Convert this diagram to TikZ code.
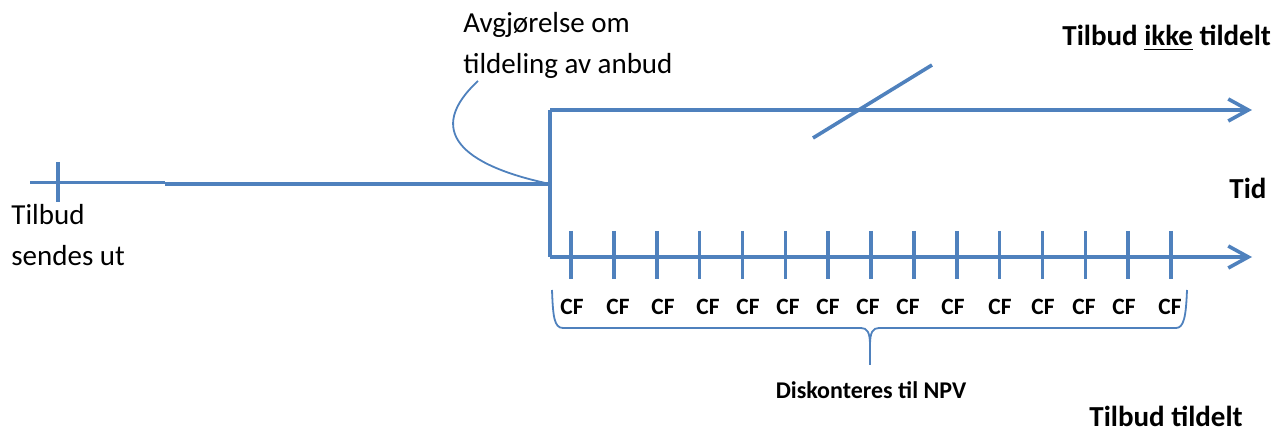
\documentclass[tikz,border=0pt]{standalone}
\usepackage{fontspec}
\setmainfont{Carlito}
\usetikzlibrary{arrows.meta}

\definecolor{officeblue}{RGB}{79,129,189}

\begin{document}
\begin{tikzpicture}[x=0.5pt,y=-0.5pt,
	axis/.style={draw=officeblue,line width=1.8pt},
	timeline/.style={axis,-{Straight Barb[length=10pt,width=11pt,line width=1.8pt]}},
	thin/.style={draw=officeblue,line width=0.9pt},
	txt/.style={inner sep=0pt,align=left,font=\fontsize{14.5}{20.8}\selectfont},
	bold/.style={inner sep=0pt,font=\bfseries\fontsize{14.5}{17}\selectfont},
	cf/.style={inner sep=0pt,font=\bfseries\fontsize{11.7}{14}\selectfont}]
\useasboundingbox (0,0) rectangle (1276,432);

% points on the time axes
\coordinate (start) at (30,183);
\coordinate (split) at (550,184);
\coordinate (top) at (550,110);
\coordinate (bot) at (550,257);
\coordinate (topend) at (1252,110);
\coordinate (botend) at (1252,257);

% first part of the time axis
\draw[axis,line width=1.5pt] (start) -- (165,183);
\draw[axis] (165,184) -- (split);
\draw[axis] (58,162) -- (58,202);

% the two branches
\draw[axis] (top) -- (bot);
\draw[timeline] (top) -- (topend);
\draw[timeline] (bot) -- (botend);
\draw[axis] (813,138) -- (932,65);

% periods on the lower branch
\foreach \i in {0,...,14}
	\draw[axis] (571+42.86*\i,231) -- ++(0,48);

\foreach \x [count=\i] in {572,618,663,708,748,788,828,868,908,953,1000,1043,1084,1124,1170}
	\node[cf] (cf\i) at (\x,307) {CF};

% brace under the cash flows
\draw[thin] (552,290) .. controls (553,316) and (554,328) .. (563,328)
	-- (861,328) .. controls (867,328) and (870,332) .. (870,345) -- (870,365)
	(870,345) .. controls (870,332) and (873,328) .. (879,328)
	-- (1176,328) .. controls (1184,328) and (1186,316) .. (1187,290);

% labels (base anchor sits on the last line)
\node[txt,anchor=base west] (avgj) at (463,74) {Avgjørelse om\\tildeling av anbud};
\draw[thin] (478,81) .. controls (425,130) and (460,165) .. (split);
\node[txt,anchor=base west] (sendt) at (11,266) {Tilbud\\sendes ut};
\node[bold,anchor=base west] (ikke) at (1062,46) {Tilbud \underline{ikke} tildelt};
\node[bold,anchor=base west] (tid) at (1229,199) {Tid};
\node[bold,anchor=base west] (tildelt) at (1089,427) {Tilbud tildelt};
\node[cf,font=\bfseries\fontsize{12}{14}\selectfont,anchor=base] (npv) at (871,399) {Diskonteres til NPV};
\end{tikzpicture}
\end{document}
